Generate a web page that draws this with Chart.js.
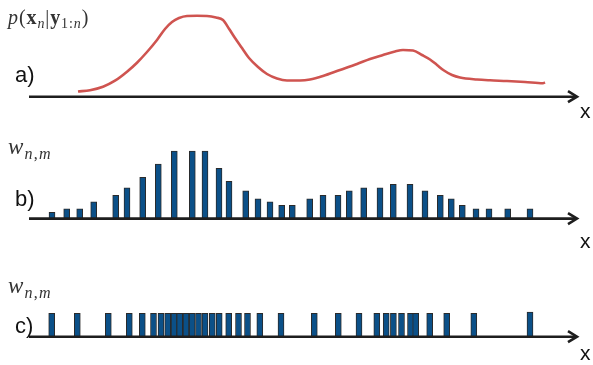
<!DOCTYPE html>
<html>
<head>
<meta charset="utf-8">
<script src="https://cdn.jsdelivr.net/npm/chart.js@4/dist/chart.umd.min.js"></script>
<style>
  html, body { margin: 0; padding: 0; background: #fff; }
  #wrap { position: relative; width: 593px; height: 365px; overflow: hidden; background: #fff; }
  canvas { position: absolute; left: 0; }
  .lab { position: absolute; line-height: normal; white-space: nowrap; margin: 0; }
  .sans { font-family: 'Liberation Sans', Arial, sans-serif; color: #111; }
  .math { font-family: 'Liberation Serif', 'DejaVu Serif', serif; color: #333; }
  .sub { font-size: 0.7em; position: relative; top: 0.28em; line-height: 0; }
</style>
</head>
<body>
<div id="wrap">
  <canvas id="ca" width="593" height="120" style="top:0px"></canvas>
  <canvas id="cb" width="593" height="125" style="top:120px"></canvas>
  <canvas id="cc" width="593" height="120" style="top:245px"></canvas>

  <div class="lab math" style="left:8px;top:6px;font-size:20px;letter-spacing:0.9px;"><i>p</i>(<b>x</b><span class="sub"><i>n</i></span>|<b>y</b><span class="sub">1:<i>n</i></span>)</div>
  <div class="lab sans" style="left:15px;top:62px;font-size:22px;">a)</div>
  <div class="lab sans" style="left:580px;top:99px;font-size:21px;">x</div>

  <div class="lab math" style="left:8px;top:134px;font-size:23px;letter-spacing:1.2px;"><i>w</i><span class="sub"><i>n</i>,<i>m</i></span></div>
  <div class="lab sans" style="left:15px;top:186px;font-size:22px;">b)</div>
  <div class="lab sans" style="left:580px;top:229px;font-size:21px;">x</div>

  <div class="lab math" style="left:8px;top:273px;font-size:23px;letter-spacing:1.2px;"><i>w</i><span class="sub"><i>n</i>,<i>m</i></span></div>
  <div class="lab sans" style="left:15px;top:313px;font-size:22px;">c)</div>
  <div class="lab sans" style="left:580px;top:341px;font-size:21px;">x</div>
</div>
<script>
// ---- data ----
// a) posterior density p(x_n | y_1:n)
const densityX = [49, 61, 74, 86, 98, 108, 118, 128, 136, 143, 150, 158, 168, 178, 187, 194, 200, 206, 213, 220, 229, 238, 248, 258, 271, 281, 294, 311, 328, 341, 354, 366, 374, 384, 393, 401, 408, 415, 423, 431, 448, 461, 478, 496, 514, 516];
const densityY = [5.2, 6.5, 10, 16, 25, 34, 44.7, 56.7, 67.7, 74.7, 78.7, 80.7, 80.9, 80.7, 79.2, 76.7, 68, 58.7, 48.7, 38.7, 29.7, 22.7, 18.2, 16.2, 16.2, 17.2, 20.7, 26.7, 32.7, 37.7, 41.7, 45.2, 46.7, 46.2, 41.7, 37.2, 31.7, 26.2, 21.7, 19.2, 17.2, 16.4, 15.7, 14.7, 13.4, 14.4];

// b) weighted particles w_{n,m}
const particleX = [23, 37.7, 50.7, 64.7, 86.7, 98, 113.7, 129.3, 145.3, 163.3, 176, 190, 200, 216.7, 229, 241, 252.7, 263.3, 280.7, 294, 309, 320.3, 334.7, 351, 364.3, 381, 396, 411.3, 422.3, 433.3, 447, 460, 478.7, 501];
const particleW = [6.2, 9.8, 9.8, 16.8, 23.2, 30.8, 41.2, 54.5, 67.5, 67.5, 67.5, 50.2, 37.2, 27.8, 19.8, 16.8, 13.2, 13.2, 19.8, 23.2, 23.2, 27.8, 30.8, 30.8, 34.2, 34.2, 27.8, 23.2, 19.8, 13.2, 9.8, 9.8, 9.8, 9.8];

// c) resampled particles (equal weights)
const resampledX = [22.7, 48.3, 79.3, 100.3, 113.3, 124.5, 132, 138.7, 145, 150.7, 157, 163.2, 169.5, 176, 183.3, 190.2, 199.7, 209.5, 218.5, 230.8, 252, 285.3, 309.3, 330, 347.8, 357.2, 364.4, 372.5, 381.5, 386.7, 400.7, 417.7, 444.8, 501];
const resampledW = [23.4, 23.4, 23.4, 23.4, 23.4, 23.4, 23.4, 23.4, 23.4, 23.4, 23.4, 23.4, 23.4, 23.4, 23.4, 23.4, 23.4, 23.4, 23.4, 23.4, 23.4, 23.4, 23.4, 23.4, 23.4, 23.4, 23.4, 23.4, 23.4, 23.4, 23.4, 23.4, 23.4, 24.5];

const xMin = 0, xMax = 548;

// ---- helpers ----
const arrowAxis = {
  id: 'arrowAxis',
  afterDraw(chart) {
    const { ctx, chartArea } = chart;
    const y = chartArea.bottom;
    const x0 = chartArea.left, x1 = chartArea.right;
    ctx.save();
    ctx.strokeStyle = '#1e1e1e';
    ctx.lineWidth = 2.6;
    ctx.lineCap = 'butt';
    ctx.beginPath();
    ctx.moveTo(x0, y);
    ctx.lineTo(x1 - 1, y);
    ctx.stroke();
    ctx.lineJoin = 'miter';
    ctx.beginPath();
    ctx.moveTo(x1 - 9, y - 5.5);
    ctx.lineTo(x1, y);
    ctx.lineTo(x1 - 9, y + 5.5);
    ctx.stroke();
    ctx.restore();
  }
};

function baseOptions(pad, yMax) {
  return {
    responsive: false,
    animation: false,
    layout: { padding: pad },
    plugins: { legend: { display: false }, tooltip: { enabled: false } },
    scales: {
      x: { type: 'linear', min: xMin, max: xMax, offset: false, display: false },
      y: { min: 0, max: yMax, display: false }
    }
  };
}

// a) canvas top 0, baseline at 96.7
new Chart(document.getElementById('ca'), {
  type: 'line',
  data: {
    datasets: [{
      data: densityX.map((x, i) => ({ x, y: densityY[i] })),
      borderColor: '#cf5450',
      borderWidth: 2.6,
      pointRadius: 0,
      cubicInterpolationMode: 'monotone',
      fill: false
    }]
  },
  options: baseOptions({ left: 29, right: 16, top: 6.7, bottom: 23.3 }, 90),
  plugins: [arrowAxis]
});

// b) canvas top 120, baseline at 218.6
new Chart(document.getElementById('cb'), {
  type: 'bar',
  data: {
    datasets: [{
      data: particleX.map((x, i) => ({ x, y: particleW[i] })),
      backgroundColor: '#0b5088',
      borderColor: '#2b2b2b',
      borderWidth: 1,
      borderSkipped: false,
      barThickness: 6
    }]
  },
  options: baseOptions({ left: 29, right: 16, top: 18.6, bottom: 26.4 }, 80),
  plugins: [arrowAxis]
});

// c) canvas top 245, baseline at 336.7
new Chart(document.getElementById('cc'), {
  type: 'bar',
  data: {
    datasets: [{
      data: resampledX.map((x, i) => ({ x, y: resampledW[i] })),
      backgroundColor: '#0b5088',
      borderColor: '#2b2b2b',
      borderWidth: 1,
      borderSkipped: false,
      barThickness: 6
    }]
  },
  options: baseOptions({ left: 29, right: 16, top: 61.7, bottom: 28.3 }, 30),
  plugins: [arrowAxis]
});
</script>
</body>
</html>
